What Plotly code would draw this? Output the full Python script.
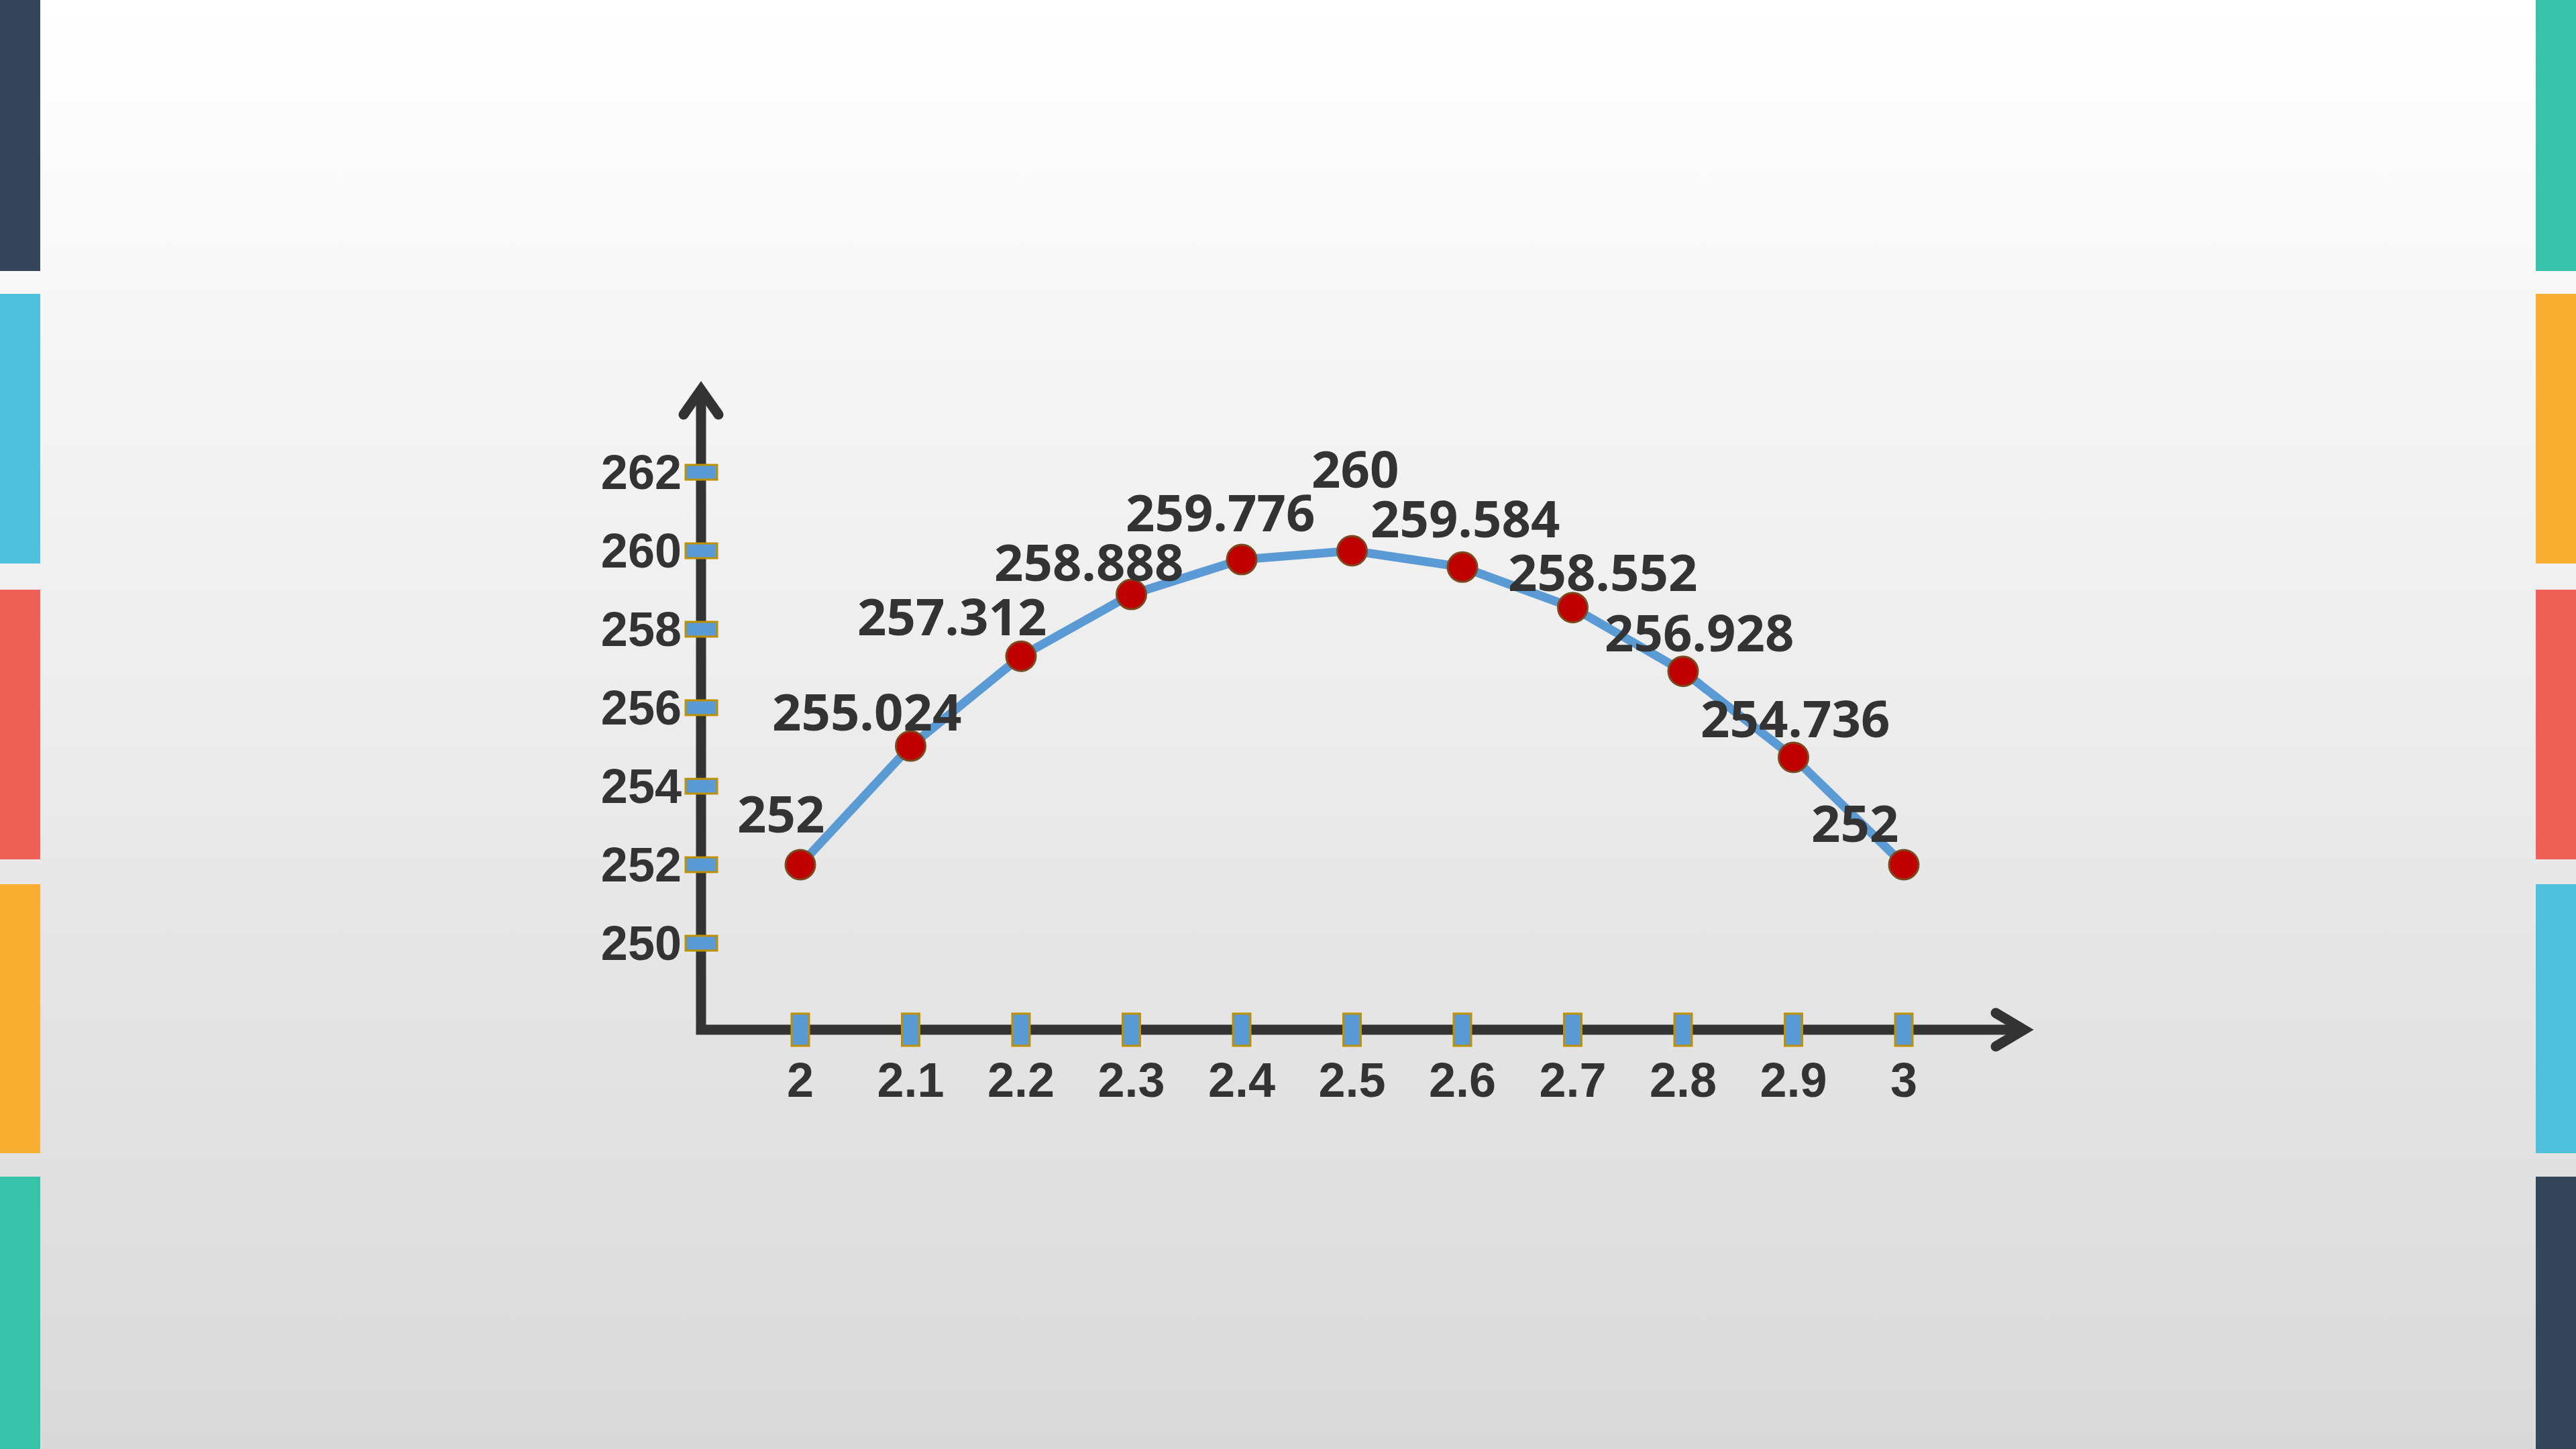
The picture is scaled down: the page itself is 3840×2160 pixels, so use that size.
import base64
import plotly.graph_objects as go

# ---------------- data ----------------
x_values = [2.0, 2.1, 2.2, 2.3, 2.4, 2.5, 2.6, 2.7, 2.8, 2.9, 3.0]
y_values = [252, 255.024, 257.312, 258.888, 259.776, 260, 259.584, 258.552, 256.928, 254.736, 252]
x_tick_labels = ["2", "2.1", "2.2", "2.3", "2.4", "2.5", "2.6", "2.7", "2.8", "2.9", "3"]
y_tick_values = [250, 252, 254, 256, 258, 260, 262]
y_tick_labels = ["250", "252", "254", "256", "258", "260", "262"]

# label offsets (pixels, style only)
label_dx = [-29, -66, -103, -64, -32, 4, 4, 44, 24, 2, -73]
label_dy = [78, 53, 61, 50, 72, 124, 74, 54, 59, 59, 64]

# ---------------- layout geometry (pixels) ----------------
W, H = 3840, 2160
PL, PR, PT, PB = 900, 3200, 450, 1700          # plot area edges
X_REF, X_REF_PX, X_PX_PER_UNIT = 2.0, 1193, 1645
Y_REF, Y_REF_PX, Y_PX_PER_UNIT = 252.0, 1289, 58.5
ORIGIN_PX = (1045, 1535)

def px_to_x(px):
    return X_REF + (px - X_REF_PX) / X_PX_PER_UNIT

def px_to_y(py):
    return Y_REF - (py - Y_REF_PX) / Y_PX_PER_UNIT

def paper_x(px):
    return (px - PL) / (PR - PL)

def paper_y(py):
    return (PB - py) / (PB - PT)

x_range = [px_to_x(PL), px_to_x(PR)]
y_range = [px_to_y(PB), px_to_y(PT)]
ox, oy = px_to_x(ORIGIN_PX[0]), px_to_y(ORIGIN_PX[1])

AX_COLOR = "#333333"
TICK_FILL = "#5B9BD5"
TICK_LINE = "#BF9000"
FONT_COLOR = "#333333"

shapes = []

# side colour bars
bar_segments = [(0, 404), (438, 840), (879, 1281), (1318, 1719), (1754, 2160)]
left_colors = ["#36465A", "#50C1DC", "#EE6157", "#FBAF32", "#36C3AA"]
right_colors = ["#36C3AA", "#FBAF32", "#EE6157", "#50C1DC", "#36465A"]
for (t, b), lc, rc in zip(bar_segments, left_colors, right_colors):
    shapes.append(dict(type="rect", xref="paper", yref="paper", layer="below",
                       x0=paper_x(0), x1=paper_x(60), y0=paper_y(b), y1=paper_y(t),
                       fillcolor=lc, line=dict(width=0)))
    shapes.append(dict(type="rect", xref="paper", yref="paper", layer="below",
                       x0=paper_x(3780), x1=paper_x(3840), y0=paper_y(b), y1=paper_y(t),
                       fillcolor=rc, line=dict(width=0)))

def px_shape(**kw):
    d = dict(xref="x", yref="y", xsizemode="pixel", ysizemode="pixel", layer="above")
    d.update(kw)
    return d

# axis lines (L shape) and arrow heads, anchored at origin, in pixel offsets
YTIP, XTIP = 954, 1972
shapes.append(px_shape(type="path", xanchor=ox, yanchor=oy,
                       path=f"M 0,{YTIP} L 0,0 L {XTIP},0",
                       line=dict(color=AX_COLOR, width=15)))
shapes.append(px_shape(type="path", xanchor=ox, yanchor=oy,
                       path=f"M -26,{YTIP-37} L 0,{YTIP} L 26,{YTIP-37}",
                       line=dict(color=AX_COLOR, width=15)))
shapes.append(px_shape(type="path", xanchor=ox, yanchor=oy,
                       path=f"M {XTIP-42},25 L {XTIP},0 L {XTIP-42},-25",
                       line=dict(color=AX_COLOR, width=15)))
for cx, cy in [(-26, YTIP - 37), (26, YTIP - 37), (XTIP - 42, 25), (XTIP - 42, -25)]:
    shapes.append(px_shape(type="circle", xanchor=ox, yanchor=oy,
                           x0=cx - 7.5, x1=cx + 7.5, y0=cy - 7.5, y1=cy + 7.5,
                           fillcolor=AX_COLOR, line=dict(width=0)))

# tick markers
for v in y_tick_values:
    shapes.append(px_shape(type="rect", xanchor=ox, yanchor=v, x0=-23, x1=24, y0=-11, y1=11,
                           fillcolor=TICK_FILL, line=dict(color=TICK_LINE, width=3)))
for v in x_values:
    shapes.append(px_shape(type="rect", xanchor=v, yanchor=oy, x0=-13, x1=13, y0=-24, y1=24,
                           fillcolor=TICK_FILL, line=dict(color=TICK_LINE, width=3)))

# background gradient image
svg = ('<svg xmlns="http://www.w3.org/2000/svg" width="10" height="100" viewBox="0 0 10 100" '
       'preserveAspectRatio="none"><defs><linearGradient id="g" x1="0" y1="0" x2="0" y2="1">'
       '<stop offset="0" stop-color="#ffffff"/><stop offset="1" stop-color="#d9d9d9"/>'
       '</linearGradient></defs><rect width="10" height="100" fill="url(#g)"/></svg>')
bg_src = "data:image/svg+xml;base64," + base64.b64encode(svg.encode()).decode()

fig = go.Figure()
fig.add_trace(go.Scatter(
    x=x_values, y=y_values, mode="lines+markers",
    line=dict(color="#5B9BD5", width=13),
    marker=dict(size=44, color="#C00000", line=dict(color="#7B4A1E", width=3)),
    hoverinfo="skip", cliponaxis=False, showlegend=False,
))

annotations = []
for xv, yv, dx, dy in zip(x_values, y_values, label_dx, label_dy):
    annotations.append(dict(x=xv, y=yv, xref="x", yref="y", text=f"{yv:g}", showarrow=False,
                            xshift=dx, yshift=dy,
                            font=dict(family="Open Sans", size=76, color=FONT_COLOR, weight=700)))

tick_font = dict(family="Liberation Sans", size=72, color=FONT_COLOR, weight=700)

fig.update_layout(
    width=W, height=H,
    margin=dict(l=PL, r=W - PR, t=PT, b=H - PB, pad=0),
    paper_bgcolor="#ffffff", plot_bgcolor="rgba(0,0,0,0)",
    showlegend=False,
    shapes=shapes,
    annotations=annotations,
    images=[dict(source=bg_src, xref="paper", yref="paper",
                 x=paper_x(0), y=paper_y(0), sizex=W / (PR - PL), sizey=H / (PB - PT),
                 xanchor="left", yanchor="top", sizing="stretch", layer="below")],
    xaxis=dict(range=x_range, tickvals=x_values, ticktext=x_tick_labels,
               showgrid=False, zeroline=False, showline=False, ticks="",
               anchor="free", position=paper_y(1562), tickfont=tick_font),
    yaxis=dict(range=y_range, tickvals=y_tick_values, ticktext=y_tick_labels,
               showgrid=False, zeroline=False, showline=False, ticks="",
               anchor="free", position=paper_x(1016), tickfont=tick_font),
)

fig.write_html("out.html")
